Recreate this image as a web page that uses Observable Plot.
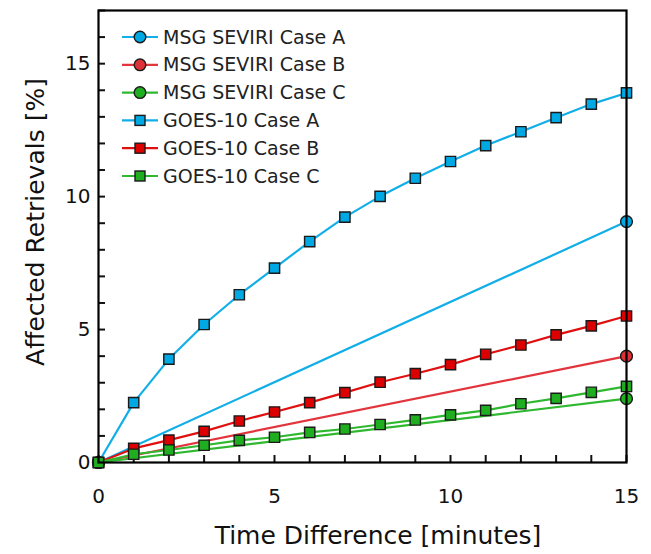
<!DOCTYPE html>
<html>
<head>
<meta charset="utf-8">
<script src="https://cdn.jsdelivr.net/npm/d3@7"></script>
<script src="https://cdn.jsdelivr.net/npm/@observablehq/plot@0.6"></script>
<style>
  html, body { margin: 0; padding: 0; background: #fff; }
  #chart svg { display: block; }
</style>
</head>
<body>
<div id="chart"></div>
<script>
// ---- data ----
const series = ["MSG SEVIRI Case A", "MSG SEVIRI Case B", "MSG SEVIRI Case C",
                "GOES-10 Case A", "GOES-10 Case B", "GOES-10 Case C"];
const goesMinutes = [0, 1, 2, 3, 4, 5, 6, 7, 8, 9, 10, 11, 12, 13, 14, 15];
const goesA = [0, 2.25, 3.89, 5.19, 6.31, 7.31, 8.31, 9.23, 10.01, 10.69, 11.32, 11.92, 12.44, 12.97, 13.48, 13.9];
const goesB = [0, 0.53, 0.84, 1.17, 1.56, 1.9, 2.25, 2.63, 3.02, 3.34, 3.68, 4.07, 4.42, 4.8, 5.14, 5.51];
const goesC = [0, 0.31, 0.47, 0.65, 0.83, 0.95, 1.13, 1.26, 1.43, 1.6, 1.79, 1.96, 2.21, 2.41, 2.64, 2.86];
const msgMinutes = [0, 15];
const msgA = [0, 9.06];
const msgB = [0, 4.0];
const msgC = [0, 2.4];
const yTicks = [0, 5, 10, 15];
const xTicks = [0, 5, 10, 15];

const lineColors = ["#12aee8", "#e2343c", "#2fb82f", "#12aee8", "#e01010", "#2fb82f"];
const fillColors = ["#00a8e4", "#dd3038", "#1fae1f", "#00a8e4", "#dd0000", "#1fae1f"];
const symbols = ["circle", "circle", "circle", "square", "square", "square"];

const values = [msgA, msgB, msgC, goesA, goesB, goesC];
const minutes = [msgMinutes, msgMinutes, msgMinutes, goesMinutes, goesMinutes, goesMinutes];

const data = [];
series.forEach((s, i) => values[i].forEach((v, j) => data.push({series: s, idx: i, x: minutes[i][j], y: v})));

const W = 651, H = 554;
const mL = 98, mR = 25, mT = 10, mB = 92;

const marks = [];
series.forEach((s, i) => {
  const d = data.filter(r => r.idx === i);
  marks.push(Plot.line(d, {x: "x", y: "y", stroke: lineColors[i], strokeWidth: 2.2}));
  marks.push(Plot.dot(d, {x: "x", y: "y", symbol: () => symbols[i], r: symbols[i] === "square" ? 5.8 : 5.9,
    fill: fillColors[i], stroke: "#1a1a1a", strokeWidth: 1.4}));
});

const plot = Plot.plot({
  width: W, height: H,
  marginLeft: mL, marginRight: mR, marginTop: mT, marginBottom: mB,
  style: {fontFamily: "'DejaVu Sans', Verdana, sans-serif", background: "#fff", color: "#111"},
  x: {domain: [0, 15]},
  y: {domain: [0, 17]},
  symbol: {type: "identity"},
  marks: [
    Plot.axisX({ticks: d3.range(0, 16), tickSize: 7, dy: -7, tickFormat: () => "", label: null, strokeWidth: 2}),
    Plot.axisY({ticks: d3.range(0, 18), tickSize: 7, dx: 7, tickFormat: () => "", label: null, strokeWidth: 2}),
    Plot.axisX({ticks: xTicks, tickSize: 0, tickPadding: 26, label: null, fontSize: 20}),
    Plot.axisY({ticks: yTicks, tickSize: 0, tickPadding: 8, label: null, fontSize: 20}),
    ...marks,
    Plot.frame({stroke: "#000", strokeWidth: 2.2})
  ]
});

document.getElementById("chart").appendChild(plot);

const svg = d3.select(plot);
// axis titles
svg.append("text").attr("x", 378).attr("y", 537).attr("text-anchor", "middle")
  .attr("dominant-baseline", "middle").attr("font-size", 25).attr("fill", "#111")
  .text("Time Difference [minutes]");
svg.append("text").attr("transform", "translate(37,222) rotate(-90)").attr("text-anchor", "middle")
  .attr("dominant-baseline", "middle").attr("font-size", 25).attr("fill", "#111")
  .text("Affected Retrievals [%]");

// legend
const lg = svg.append("g");
series.forEach((s, i) => {
  const yy = 37 + i * 27.8;
  lg.append("line").attr("x1", 122).attr("x2", 158).attr("y1", yy).attr("y2", yy)
    .attr("stroke", lineColors[i]).attr("stroke-width", 2.2);
  if (symbols[i] === "circle") {
    lg.append("circle").attr("cx", 140).attr("cy", yy).attr("r", 5.8)
      .attr("fill", fillColors[i]).attr("stroke", "#1a1a1a").attr("stroke-width", 1.4);
  } else {
    lg.append("rect").attr("x", 135).attr("y", yy - 5).attr("width", 10).attr("height", 10)
      .attr("fill", fillColors[i]).attr("stroke", "#1a1a1a").attr("stroke-width", 1.4);
  }
  lg.append("text").attr("x", 163).attr("y", yy + 1).attr("text-anchor", "start")
    .attr("dominant-baseline", "middle")
    .attr("font-size", 19).attr("fill", "#222").text(s);
});
</script>
</body>
</html>
